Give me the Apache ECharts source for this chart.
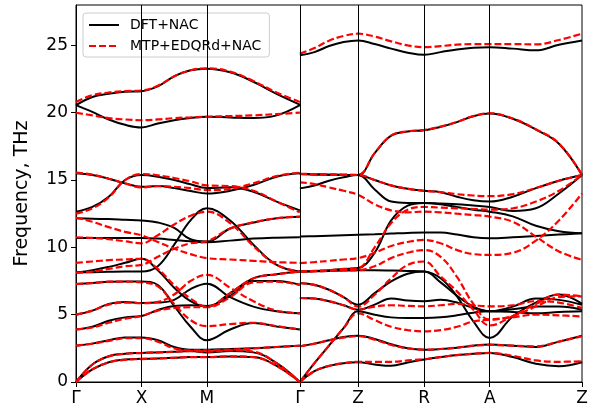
<!DOCTYPE html>
<html lang="en" style="height: 100%">
<head>
  <meta charset="utf-8">
</head>
<body style="height: 100%; margin: 0">
  <div id="container" style="width: 600px; height: 413px"></div>

  <script type="text/javascript" src="https://fastly.jsdelivr.net/npm/echarts@6/dist/echarts.min.js"></script>
  <script type="text/javascript">
// high-symmetry points along the k-path
var kTicks = [0, 1, 2, 3.42, 4.31, 5.32, 6.32, 7.73];
var kLabels = ['Γ', 'X', 'M', 'Γ', 'Z', 'R', 'A', 'Z'];
var freqTicks = [0, 5, 10, 15, 20, 25];

// sample positions: Γ-X-M-Γ and Γ-Z-R-A-Z
var kLeft = [0, 0.25, 0.5, 0.75, 1, 1.25, 1.5, 1.75, 2, 2.355, 2.71, 3.065, 3.42];
var kRight = [3.42, 3.6425, 3.865, 4.0875, 4.31, 4.5625, 4.815, 5.0675, 5.32,
  5.57, 5.82, 6.07, 6.32, 6.6725, 7.025, 7.3775, 7.73];

// DFT+NAC bands, THz
var dftLeft = [
  [20.56, 21.17, 21.4, 21.55, 21.6, 21.96, 22.7, 23.15, 23.27, 23.0, 22.3, 21.4, 20.6],
  [20.56, 20.06, 19.5, 19.1, 18.9, 19.2, 19.44, 19.6, 19.7, 19.65, 19.6, 19.8, 20.56],
  [15.5, 15.37, 15.1, 14.75, 14.5, 14.55, 14.4, 14.19, 14.0, 14.2, 14.63, 15.25, 15.5],
  [12.65, 13.0, 13.76, 15.0, 15.37, 15.25, 15.0, 14.68, 14.4, 14.46, 14.13, 13.4, 12.75],
  [12.16, 12.12, 12.1, 12.05, 12.0, 11.85, 11.45, 10.6, 10.43, 11.4, 11.84, 12.16, 12.28],
  [10.7, 10.7, 10.7, 10.7, 10.7, 10.65, 10.55, 10.45, 10.38, 10.5, 10.65, 10.72, 10.75],
  [8.13, 8.3, 8.55, 8.85, 9.15, 8.3, 7.0, 6.0, 5.6, 6.6, 7.7, 8.0, 8.2],
  [8.13, 8.15, 8.18, 8.2, 8.2, 8.6, 10.2, 12.0, 12.9, 12.0, 10.2, 8.7, 8.2],
  [7.27, 7.35, 7.45, 7.47, 7.47, 7.2, 5.65, 4.1, 3.1, 3.9, 4.38, 4.13, 3.9],
  [5.0, 5.3, 5.8, 5.95, 5.87, 5.9, 6.1, 6.9, 7.3, 6.3, 5.6, 5.25, 5.1],
  [3.9, 4.1, 4.55, 4.8, 4.9, 5.35, 5.65, 5.7, 5.65, 6.4, 7.5, 7.5, 7.22],
  [2.7, 2.85, 3.1, 3.3, 3.3, 3.1, 2.6, 2.4, 2.4, 2.45, 2.5, 2.6, 2.7],
  [0, 1.3, 1.91, 2.1, 2.16, 2.2, 2.25, 2.3, 2.2, 2.3, 2.2, 1.4, 0],
  [0, 0.93, 1.47, 1.67, 1.72, 1.75, 1.8, 1.85, 1.85, 1.9, 1.85, 1.2, 0]
];
var dftRight = [
  [24.26, 24.5, 24.95, 25.25, 25.37, 25.1, 24.76, 24.46, 24.3, 24.5, 24.7, 24.83, 24.87, 24.76, 24.63, 25.05, 25.37],
  [15.44, 15.42, 15.4, 15.38, 15.37, 17.0, 18.3, 18.6, 18.7, 18.95, 19.3, 19.74, 19.94, 19.55, 18.75, 17.7, 15.37],
  [15.44, 15.42, 15.4, 15.38, 15.37, 15.0, 14.6, 14.35, 14.2, 14.1, 13.76, 13.5, 13.4, 13.76, 14.4, 14.95, 15.37],
  [14.38, 14.6, 14.95, 15.2, 15.37, 14.3, 13.4, 13.3, 13.3, 13.25, 13.2, 13.1, 13.0, 12.7, 12.9, 14.0, 15.37],
  [8.2, 8.25, 8.3, 8.4, 8.46, 9.6, 12.0, 13.1, 13.3, 13.2, 13.0, 12.8, 12.65, 12.3, 11.6, 11.2, 11.05],
  [10.8, 10.83, 10.87, 10.9, 10.93, 10.97, 11.02, 11.07, 11.1, 11.1, 10.95, 10.75, 10.68, 10.75, 10.85, 10.95, 11.05],
  [8.2, 8.22, 8.25, 8.28, 8.3, 8.3, 8.28, 8.25, 8.2, 7.7, 6.36, 4.5, 3.27, 4.87, 5.9, 6.5, 5.8],
  [7.35, 7.22, 6.85, 6.3, 5.74, 6.6, 7.47, 8.04, 8.2, 7.4, 6.4, 5.6, 5.25, 5.6, 6.2, 6.1, 5.74],
  [6.24, 6.2, 6.0, 5.7, 5.37, 5.75, 6.2, 6.05, 6.0, 6.1, 5.9, 5.5, 5.25, 5.4, 5.6, 5.6, 5.37],
  [0, 1.4, 2.7, 4.0, 5.25, 5.0, 4.8, 4.75, 4.75, 4.8, 4.95, 5.15, 5.25, 5.2, 5.1, 5.2, 5.25],
  [2.65, 2.85, 3.1, 3.35, 3.44, 3.2, 2.8, 2.5, 2.4, 2.45, 2.55, 2.7, 2.78, 2.7, 2.6, 3.0, 3.44],
  [0, 0.8, 1.2, 1.4, 1.47, 1.3, 1.2, 1.45, 1.67, 1.85, 2.0, 2.1, 2.16, 1.85, 1.35, 1.17, 1.47]
];

// MTP+EDQRd+NAC bands, THz
var mtpLeft = [
  [20.8, 21.3, 21.5, 21.6, 21.65, 22.0, 22.7, 23.15, 23.3, 23.05, 22.35, 21.5, 20.8],
  [20.0, 19.8, 19.6, 19.5, 19.44, 19.5, 19.6, 19.65, 19.7, 19.75, 19.8, 19.9, 20.0],
  [15.55, 15.4, 15.1, 14.75, 14.45, 14.55, 14.5, 14.4, 14.25, 14.35, 14.75, 15.3, 15.55],
  [12.5, 12.9, 13.7, 15.0, 15.45, 15.35, 15.15, 14.9, 14.6, 14.55, 14.2, 13.4, 12.6],
  [12.2, 11.9, 11.5, 11.15, 10.9, 10.4, 9.9, 9.5, 9.2, 9.1, 9.0, 8.9, 8.85],
  [10.75, 10.7, 10.6, 10.45, 10.3, 10.9, 11.7, 12.35, 12.65, 11.8, 10.1, 8.7, 8.2],
  [8.85, 8.95, 9.05, 9.1, 9.15, 8.4, 7.2, 6.2, 5.6, 6.6, 7.7, 8.0, 8.2],
  [8.13, 8.2, 8.4, 8.6, 8.7, 9.3, 9.9, 10.3, 10.45, 11.4, 11.85, 12.16, 12.28],
  [7.27, 7.35, 7.45, 7.45, 7.4, 7.1, 5.8, 4.6, 4.15, 4.3, 4.4, 4.15, 3.9],
  [5.0, 5.3, 5.75, 5.9, 5.85, 5.95, 6.5, 7.5, 7.96, 7.0, 6.0, 5.3, 5.1],
  [3.9, 4.05, 4.4, 4.7, 4.9, 5.3, 5.5, 5.55, 5.55, 6.3, 7.4, 7.45, 7.2],
  [2.7, 2.85, 3.05, 3.25, 3.25, 3.0, 2.5, 2.35, 2.35, 2.4, 2.5, 2.6, 2.7],
  [0, 1.3, 1.9, 2.1, 2.15, 2.2, 2.25, 2.3, 2.25, 2.35, 2.25, 1.4, 0],
  [0, 0.95, 1.45, 1.65, 1.7, 1.75, 1.8, 1.85, 1.85, 1.9, 1.85, 1.2, 0]
];
var mtpRight = [
  [24.39, 24.8, 25.35, 25.7, 25.87, 25.65, 25.3, 25.0, 24.87, 24.95, 25.05, 25.1, 25.1, 25.1, 25.07, 25.4, 25.87],
  [15.46, 15.44, 15.42, 15.4, 15.39, 17.0, 18.3, 18.62, 18.72, 18.97, 19.32, 19.76, 19.96, 19.57, 18.77, 17.72, 15.39],
  [15.44, 15.42, 15.4, 15.38, 15.37, 15.0, 14.6, 14.35, 14.2, 14.1, 13.95, 13.85, 13.8, 13.95, 14.4, 14.95, 15.37],
  [14.83, 14.7, 14.45, 14.2, 13.9, 13.2, 12.75, 12.6, 12.65, 12.6, 12.5, 12.4, 12.28, 11.9, 10.8, 9.7, 9.07],
  [8.2, 8.25, 8.3, 8.4, 8.46, 10.0, 11.8, 12.8, 13.0, 12.95, 12.9, 12.85, 12.8, 12.9, 13.4, 14.2, 15.37],
  [8.83, 8.9, 9.0, 9.1, 9.2, 9.6, 10.1, 10.4, 10.55, 10.3, 9.8, 9.5, 9.44, 9.6, 10.5, 12.0, 14.0],
  [7.35, 7.2, 6.85, 6.3, 5.6, 6.48, 7.7, 8.7, 8.95, 7.84, 6.73, 5.37, 4.2, 4.9, 5.8, 6.5, 6.36],
  [8.2, 8.22, 8.25, 8.28, 8.3, 8.6, 9.2, 9.6, 9.8, 9.3, 7.8, 5.8, 4.63, 4.9, 5.6, 6.3, 6.36],
  [6.24, 6.2, 6.0, 5.7, 5.37, 5.6, 5.7, 5.65, 5.62, 5.7, 5.8, 5.7, 5.62, 5.7, 6.0, 5.9, 5.5],
  [0, 1.4, 2.7, 4.0, 5.1, 4.6, 4.1, 3.85, 3.76, 3.85, 4.1, 4.5, 4.63, 4.8, 5.0, 4.95, 4.87],
  [2.65, 2.85, 3.1, 3.3, 3.4, 3.15, 2.75, 2.5, 2.4, 2.45, 2.55, 2.7, 2.75, 2.7, 2.65, 3.0, 3.4],
  [0, 0.8, 1.2, 1.4, 1.5, 1.5, 1.5, 1.6, 1.7, 1.85, 2.0, 2.1, 2.16, 1.95, 1.6, 1.5, 1.54]
];

var FONT = 'DejaVu Sans';

function bandSeries(name, ks, bands, style, z) {
  return bands.map(function (b) {
    return {
      name: name,
      type: 'line',
      data: ks.map(function (k, i) { return [k, b[i]]; }),
      smooth: 0.4,
      showSymbol: false,
      symbol: 'none',
      silent: true,
      z: z,
      itemStyle: { color: style.color },
      lineStyle: style
    };
  });
}

var dftStyle = { color: '#000000', width: 2, type: 'solid' };
var mtpStyle = { color: '#ff0000', width: 2.2, type: [7, 3] };

var series = [].concat(
  bandSeries('DFT+NAC', kLeft, dftLeft, dftStyle, 2),
  bandSeries('DFT+NAC', kRight, dftRight, dftStyle, 2),
  bandSeries('MTP+EDQRd+NAC', kLeft, mtpLeft, mtpStyle, 3),
  bandSeries('MTP+EDQRd+NAC', kRight, mtpRight, mtpStyle, 3)
);

// vertical lines at the inner high-symmetry points
series[0].markLine = {
  silent: true,
  symbol: 'none',
  label: { show: false },
  lineStyle: { color: '#000', width: 1, type: 'solid' },
  data: kTicks.slice(1, -1).map(function (t) { return { xAxis: t }; })
};

var myChart = echarts.init(document.getElementById('container'), null, { renderer: 'canvas' });

var option = {
  animation: false,
  textStyle: { fontFamily: FONT },
  grid: {
    left: 76, right: 18, top: 5, bottom: 31,
    show: true, borderColor: '#000', borderWidth: 1
  },
  legend: {
    data: ['DFT+NAC', 'MTP+EDQRd+NAC'],
    orient: 'vertical',
    left: 83, top: 13,
    itemWidth: 30, itemHeight: 14, itemGap: 7,
    padding: [5, 8, 4, 5],
    itemStyle: { opacity: 0 },
    backgroundColor: 'rgba(255,255,255,0.8)',
    borderColor: '#cccccc', borderWidth: 1, borderRadius: 3,
    textStyle: { fontSize: 14, color: '#000', fontFamily: FONT, padding: [0, 0, 0, 6] }
  },
  xAxis: {
    type: 'value',
    min: 0, max: kTicks[kTicks.length - 1],
    splitLine: { show: false },
    axisLine: { lineStyle: { color: '#000', width: 1 } },
    axisTick: { customValues: kTicks, length: 5, lineStyle: { color: '#000' } },
    axisLabel: {
      customValues: kTicks,
      fontSize: 17, color: '#000', margin: 8,
      formatter: function (v) {
        for (var i = 0; i < kTicks.length; i++) {
          if (Math.abs(kTicks[i] - v) < 1e-6) return kLabels[i];
        }
        return '';
      }
    }
  },
  yAxis: {
    type: 'value',
    min: 0, max: 28,
    name: 'Frequency, THz',
    nameLocation: 'middle',
    nameGap: 44,
    nameTextStyle: { fontSize: 19, color: '#000', fontFamily: FONT },
    splitLine: { show: false },
    axisLine: { show: true, lineStyle: { color: '#000', width: 1 } },
    axisTick: { show: true, customValues: freqTicks, length: 5, lineStyle: { color: '#000' } },
    axisLabel: { customValues: freqTicks, fontSize: 17, color: '#000', margin: 8 }
  },
  series: series
};

myChart.setOption(option);
window.addEventListener('resize', myChart.resize);
  </script>
</body>
</html>
